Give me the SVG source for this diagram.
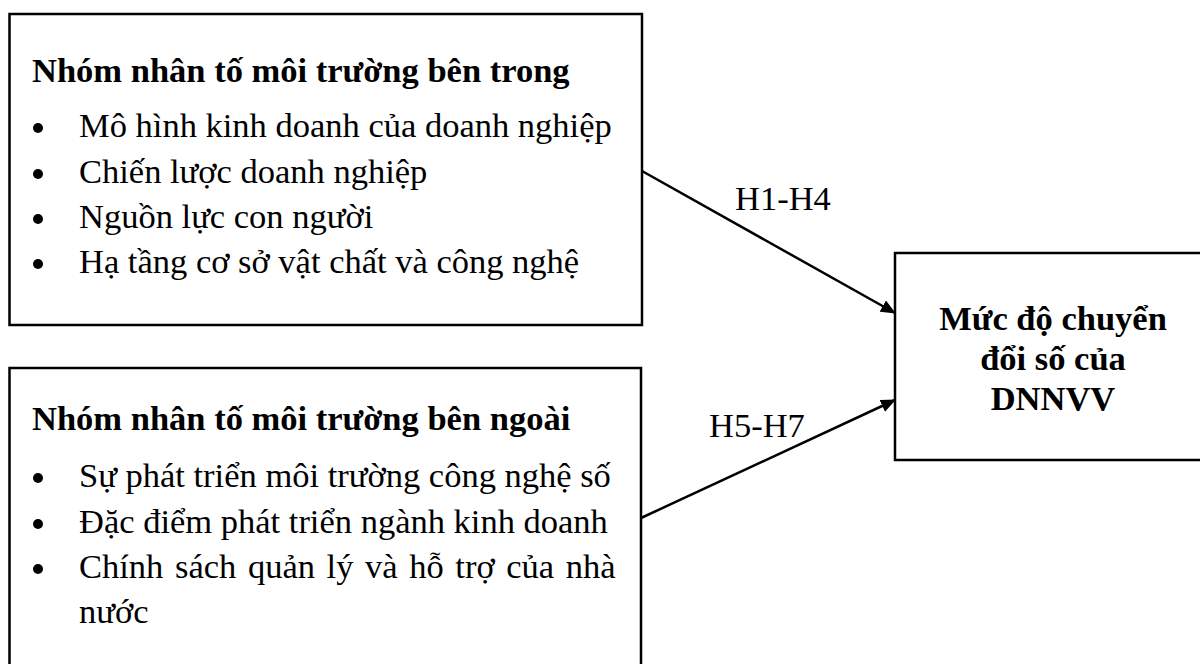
<svg xmlns="http://www.w3.org/2000/svg" width="1200" height="664" viewBox="0 0 1200 664">
  <style>
    .box { fill: #ffffff; stroke: #000000; stroke-width: 2.5; }
    .t { font-family: "Liberation Serif", "Times New Roman", serif; font-size: 34.5px; fill: #000000; }
    .b { font-weight: bold; }
    .dot { fill: #000000; }
    .edge { stroke: #000000; stroke-width: 2.5; fill: none; }
  </style>
  <defs>
    <marker id="arrow" markerWidth="15" markerHeight="13" refX="14" refY="6.5" orient="auto" markerUnits="userSpaceOnUse" viewBox="0 0 15 13">
      <path d="M0,0 L15,6.5 L0,13 z" fill="#000000"/>
    </marker>
  </defs>
  <rect width="1200" height="664" fill="#ffffff"/>

  <!-- internal factor group -->
  <g id="node-internal">
    <rect class="box" x="9.5" y="14" width="632.5" height="311"/>
    <text class="t b" x="32" y="82">Nhóm nhân tố môi trường bên trong</text>
    <circle class="dot" cx="38" cy="128" r="5"/>
    <text class="t" x="79" y="137">Mô hình kinh doanh của doanh nghiệp</text>
    <circle class="dot" cx="38" cy="174" r="5"/>
    <text class="t" x="79" y="183">Chiến lược doanh nghiệp</text>
    <circle class="dot" cx="38" cy="219" r="5"/>
    <text class="t" x="79" y="228">Nguồn lực con người</text>
    <circle class="dot" cx="38" cy="264" r="5"/>
    <text class="t" x="79" y="273">Hạ tầng cơ sở vật chất và công nghệ</text>
  </g>

  <!-- external factor group -->
  <g id="node-external">
    <rect class="box" x="9.5" y="368" width="631.5" height="340"/>
    <text class="t b" x="32" y="430">Nhóm nhân tố môi trường bên ngoài</text>
    <circle class="dot" cx="38" cy="478" r="5"/>
    <text class="t" x="79" y="487">Sự phát triển môi trường công nghệ số</text>
    <circle class="dot" cx="38" cy="524" r="5"/>
    <text class="t" x="79" y="533">Đặc điểm phát triển ngành kinh doanh</text>
    <circle class="dot" cx="38" cy="569" r="5"/>
    <text class="t" x="79" y="578" word-spacing="3">Chính sách quản lý và hỗ trợ của nhà</text>
    <text class="t" x="79" y="623">nước</text>
  </g>

  <!-- outcome -->
  <g id="node-outcome">
    <rect class="box" x="895" y="253" width="316" height="207"/>
    <text class="t b" x="1053" y="330" text-anchor="middle">Mức độ chuyển</text>
    <text class="t b" x="1053" y="370" text-anchor="middle">đổi số của</text>
    <text class="t b" x="1053" y="410" text-anchor="middle">DNNVV</text>
  </g>

  <!-- hypothesis arrows -->
  <g id="connectors">
    <line class="edge" x1="642" y1="171" x2="895" y2="313" marker-end="url(#arrow)"/>
    <line class="edge" x1="641" y1="518" x2="895" y2="400" marker-end="url(#arrow)"/>
    <text class="t" x="735" y="210">H1-H4</text>
    <text class="t" x="709" y="437">H5-H7</text>
  </g>
</svg>
